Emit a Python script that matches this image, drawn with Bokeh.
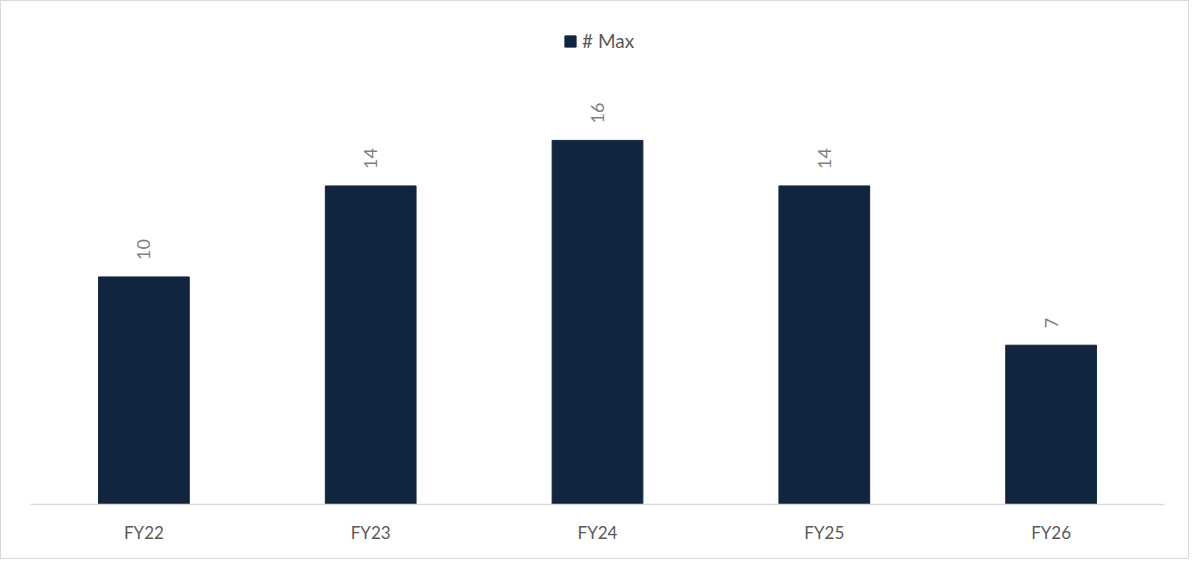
import math
from bokeh.plotting import figure
from bokeh.models import ColumnDataSource, Legend, LegendItem, Range1d, FactorRange
from bokeh.core.properties import value
from bokeh.embed import file_html
from bokeh.resources import INLINE

categories = ["FY22", "FY23", "FY24", "FY25", "FY26"]
max_values = [10, 14, 16, 14, 7]
series_name = "# Max"

BAR = "#12253f"
FONT = "Lato"

src = ColumnDataSource(dict(cat=categories, val=max_values, lbl=[str(v) for v in max_values]))

p = figure(x_range=FactorRange(*categories), y_range=Range1d(0, 21.27),
           width=1189, height=559, output_backend="svg", toolbar_location=None,
           min_border_left=29, min_border_right=26, min_border_top=19, min_border_bottom=56)
p.styles = {"border": "1px solid #d9d9d9"}
p.x_range.range_padding = 0
p.background_fill_color = "white"
p.border_fill_color = "white"
p.outline_line_color = None
p.grid.visible = False
p.yaxis.visible = False

r = p.vbar(x="cat", top="val", width=0.4, source=src, fill_color=BAR, line_color=BAR)

p.text(x="cat", y="val", text="lbl", source=src, angle=math.pi / 2,
       text_align="left", text_baseline="middle", y_offset=-17,
       text_font=value(FONT), text_font_size="18px", text_color="#7f7f7f")

ax = p.xaxis[0]
ax.axis_line_color = "#d9d9d9"
ax.axis_line_width = 1.5
ax.major_tick_line_color = None
ax.minor_tick_line_color = None
ax.major_label_text_font = FONT
ax.major_label_text_font_size = "17px"
ax.major_label_text_color = "#595959"
ax.major_label_standoff = 11

legend = Legend(items=[LegendItem(label=series_name, renderers=[r])],
                orientation="horizontal", location=(533, 452),
                glyph_width=14, glyph_height=14, label_standoff=5,
                padding=0, margin=0, border_line_color=None,
                background_fill_alpha=0,
                label_text_font=FONT, label_text_font_size="19px",
                label_text_color="#595959")
p.add_layout(legend)

open("out.html", "w").write(file_html(p, INLINE))
